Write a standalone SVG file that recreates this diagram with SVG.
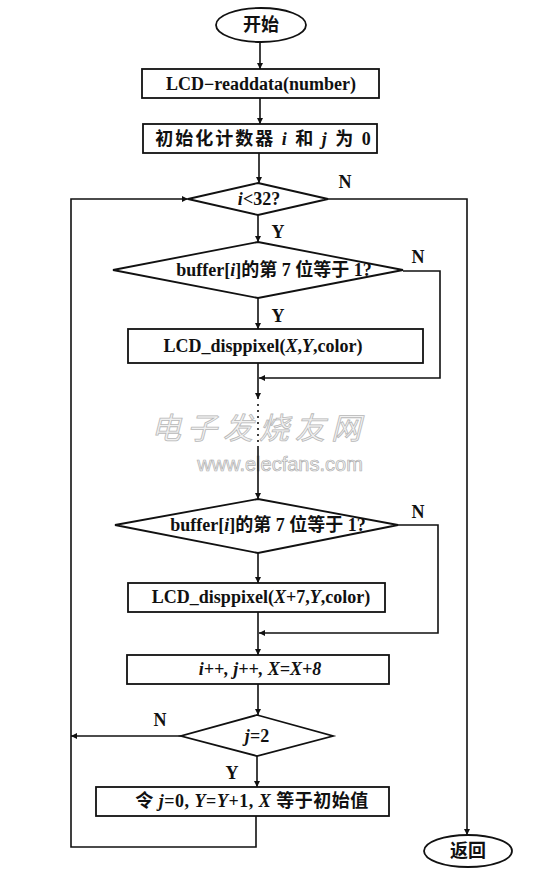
<svg xmlns="http://www.w3.org/2000/svg" width="560" height="877" viewBox="0 0 560 877">
<defs>
<marker id="ah" viewBox="0 0 10 10" refX="10" refY="5" markerWidth="6" markerHeight="6" markerUnits="userSpaceOnUse" orient="auto"><path d="M0,0 L10,5 L0,10 Z" fill="#111"/></marker>
<style>
.shape{fill:#fff;stroke:#111;stroke-width:1.8}
.conn{fill:none;stroke:#111;stroke-width:1.6}
.t{font-family:"Liberation Serif","Noto Sans CJK SC",serif;font-weight:bold;font-size:18px;fill:#111;text-anchor:middle;dominant-baseline:central}
.lbl{font-family:"Liberation Serif",serif;font-weight:bold;font-size:18px;fill:#111;text-anchor:middle;dominant-baseline:central}
.wm{font-family:"Noto Sans CJK SC",sans-serif;font-size:30px;font-style:italic;fill:#f2f2f2;stroke:#b8b8b8;stroke-width:0.8;text-anchor:middle;dominant-baseline:central}
.wm2{font-family:"Liberation Sans",sans-serif;font-size:20px;fill:#f2f2f2;stroke:#b0b0b0;stroke-width:0.7;text-anchor:middle;dominant-baseline:central}
</style>
</defs>
<rect width="560" height="877" fill="#fff"/>
<g id="watermark">
<text class="wm" x="259" y="426" letter-spacing="6">电子发烧友网</text>
<text class="wm2" x="280" y="464">www.elecfans.com</text>
</g>
<g id="connectors">
<path class="conn" d="M260,42 V69" marker-end="url(#ah)"/>
<path class="conn" d="M260,98 V124" marker-end="url(#ah)"/>
<path class="conn" d="M259,153 V183" marker-end="url(#ah)"/>
<path class="conn" d="M256,816 V847 H71 V199 H188" marker-end="url(#ah)"/>
<path class="conn" d="M328,199 H467 V835" marker-end="url(#ah)"/>
<path class="conn" d="M258,215 V242" marker-end="url(#ah)"/>
<path class="conn" d="M403,271 H440 V378 H259" marker-end="url(#ah)"/>
<path class="conn" d="M258,298 V329" marker-end="url(#ah)"/>
<path class="conn" d="M258,363 V399" marker-end="url(#ah)"/>
<path class="conn" d="M258,404 V442" stroke-dasharray="2,4"/>
<path class="conn" d="M258,446 V499" marker-end="url(#ah)"/>
<path class="conn" d="M398,525 H438 V633 H259" marker-end="url(#ah)"/>
<path class="conn" d="M258,553 V583" marker-end="url(#ah)"/>
<path class="conn" d="M258,612 V655" marker-end="url(#ah)"/>
<path class="conn" d="M258,684 V715" marker-end="url(#ah)"/>
<path class="conn" d="M181,736 H71" marker-end="url(#ah)"/>
<path class="conn" d="M257,756 V787" marker-end="url(#ah)"/>
<text class="lbl" x="345" y="182">N</text>
<text class="lbl" x="278" y="232">Y</text>
<text class="lbl" x="418" y="257">N</text>
<text class="lbl" x="278" y="316">Y</text>
<text class="lbl" x="418" y="512">N</text>
<text class="lbl" x="160" y="720">N</text>
<text class="lbl" x="232" y="773">Y</text>
</g>
<g id="start">
<ellipse class="shape" cx="261" cy="25" rx="45" ry="17"/>
<text class="t" x="261" y="25">开始</text>
</g>
<g id="readdata">
<rect class="shape" x="142" y="69" width="237" height="29"/>
<text class="t" x="261" y="84">LCD−readdata(number)</text>
</g>
<g id="init">
<rect class="shape" x="143" y="124" width="234" height="29"/>
<text class="t" x="264" y="139" letter-spacing="2">初始化计数器 <tspan font-style="italic">i</tspan> 和 <tspan font-style="italic">j</tspan> 为 0</text>
</g>
<g id="cond-i">
<polygon class="shape" points="258,183 328,199 258,215 188,199"/>
<text class="t" x="259" y="199"><tspan font-style="italic">i</tspan>&lt;32?</text>
</g>
<g id="cond-bit1">
<polygon class="shape" points="258,242 403,270 258,298 113,270"/>
<text class="t" x="274" y="270">buffer[<tspan font-style="italic">i</tspan>]的第 7 位等于 1?</text>
</g>
<g id="pixel1">
<rect class="shape" x="128" y="329" width="295" height="34"/>
<text class="t" x="263" y="346">LCD_disppixel(<tspan font-style="italic">X</tspan>,<tspan font-style="italic">Y</tspan>,color)</text>
</g>
<g id="cond-bit2">
<polygon class="shape" points="258,499 398,525 258,553 115,525"/>
<text class="t" x="268" y="525">buffer[<tspan font-style="italic">i</tspan>]的第 7 位等于 1?</text>
</g>
<g id="pixel2">
<rect class="shape" x="128" y="583" width="257" height="29"/>
<text class="t" x="261" y="597">LCD_disppixel(<tspan font-style="italic">X</tspan>+7,<tspan font-style="italic">Y</tspan>,color)</text>
</g>
<g id="increment">
<rect class="shape" x="127" y="655" width="262" height="29"/>
<text class="t" x="260" y="669" font-style="italic">i++, j++, X=X+8</text>
</g>
<g id="cond-j">
<polygon class="shape" points="257,715 333,736 257,756 181,736"/>
<text class="t" x="257" y="736"><tspan font-style="italic">j</tspan>=2</text>
</g>
<g id="reset">
<rect class="shape" x="96" y="787" width="293" height="29"/>
<text class="t" x="252" y="801" letter-spacing="0.5">令 <tspan font-style="italic">j</tspan>=0, <tspan font-style="italic">Y</tspan>=<tspan font-style="italic">Y</tspan>+1, <tspan font-style="italic">X</tspan> 等于初始值</text>
</g>
<g id="end">
<ellipse class="shape" cx="468" cy="851" rx="44" ry="16"/>
<text class="t" x="468" y="851">返回</text>
</g>
</svg>
